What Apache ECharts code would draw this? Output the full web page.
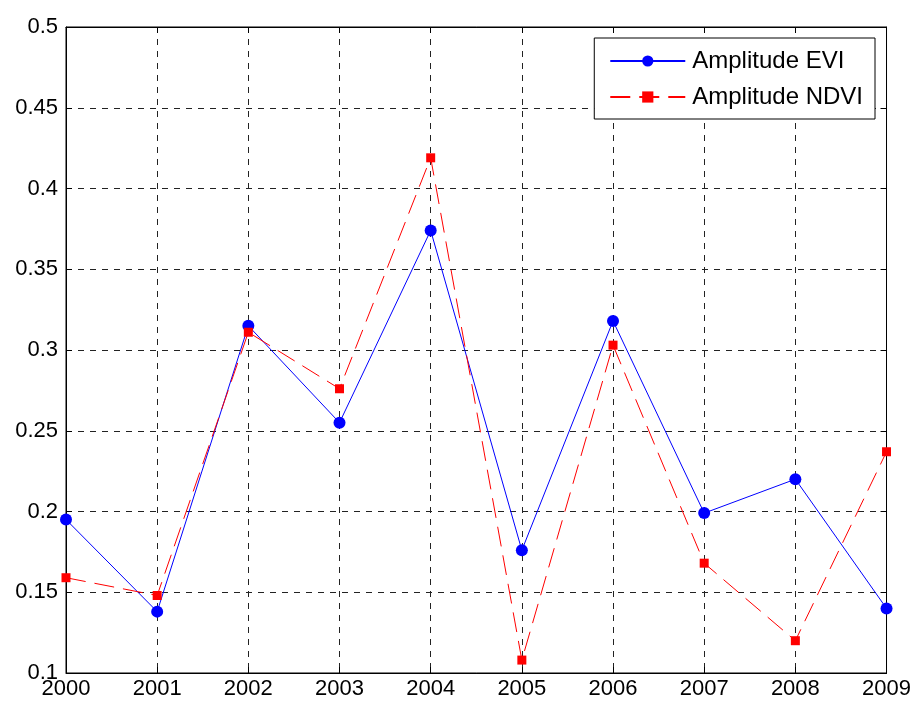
<!DOCTYPE html>
<html>
<head>
<meta charset="utf-8">
<script src="https://cdn.jsdelivr.net/npm/echarts@6/dist/echarts.min.js"></script>
<style>html,body{margin:0;padding:0;background:#fff}#c{width:914px;height:704px}</style>
</head>
<body>
<div id="c"></div>
<script>
const years = ['2000','2001','2002','2003','2004','2005','2006','2007','2008','2009'];
const eviValues = [0.195, 0.138, 0.315, 0.255, 0.374, 0.176, 0.318, 0.199, 0.220, 0.140];
const ndviValues = [0.159, 0.148, 0.311, 0.276, 0.419, 0.108, 0.303, 0.168, 0.120, 0.237];
const yMin = 0.1, yMax = 0.5, yStep = 0.05;

const chart = echarts.init(document.getElementById('c'));
const font = 'Liberation Sans, Arial, sans-serif';
const tick = { show: true, inside: true, length: 6, lineStyle: { color: '#000' } };
chart.setOption({
  animation: false,
  backgroundColor: '#fff',
  grid: { left: 66, right: 27, top: 27, bottom: 31, show: true, borderColor: '#000', borderWidth: 1, containLabel: false },
  legend: {
    orient: 'vertical', right: 39, top: 38,
    backgroundColor: '#fff', borderColor: '#000', borderWidth: 1,
    padding: [11, 12, 10, 15], itemGap: 12, itemWidth: 75, itemHeight: 14,
    textStyle: { fontFamily: font, fontSize: 24, color: '#000', padding: [0, 0, 0, 2] },
    data: ['Amplitude EVI', 'Amplitude NDVI']
  },
  xAxis: [{
    type: 'category', data: years, boundaryGap: false,
    axisLine: { lineStyle: { color: '#000', width: 1 } },
    axisTick: tick,
    axisLabel: { fontFamily: font, fontSize: 22, color: '#000', margin: 5 },
    splitLine: { show: true, lineStyle: { color: '#222', type: [6, 6], width: 1 } }
  }, {
    type: 'category', data: years, boundaryGap: false, position: 'top',
    axisLine: { lineStyle: { color: '#000', width: 1 } },
    axisTick: tick, axisLabel: { show: false }, splitLine: { show: false }
  }],
  yAxis: [{
    type: 'value', min: yMin, max: yMax, interval: yStep,
    axisLine: { show: true, lineStyle: { color: '#000', width: 1 } },
    axisTick: tick,
    axisLabel: { fontFamily: font, fontSize: 22, color: '#000', margin: 8 },
    splitLine: { show: true, lineStyle: { color: '#222', type: [6, 6], width: 1 } }
  }, {
    type: 'value', min: yMin, max: yMax, interval: yStep, position: 'right',
    axisLine: { show: true, lineStyle: { color: '#000', width: 1 } },
    axisTick: tick, axisLabel: { show: false }, splitLine: { show: false }
  }],
  series: [
    {
      name: 'Amplitude EVI', type: 'line', data: eviValues,
      symbol: 'circle', symbolSize: 12,
      itemStyle: { color: '#0000ff' },
      lineStyle: { color: '#0000ff', width: 1 }
    },
    {
      name: 'Amplitude NDVI', type: 'line', data: ndviValues,
      symbol: 'rect', symbolSize: 9,
      itemStyle: { color: '#ff0000' },
      lineStyle: { color: '#ff0000', width: 1, type: [20, 9] }
    }
  ]
});
</script>
</body>
</html>
